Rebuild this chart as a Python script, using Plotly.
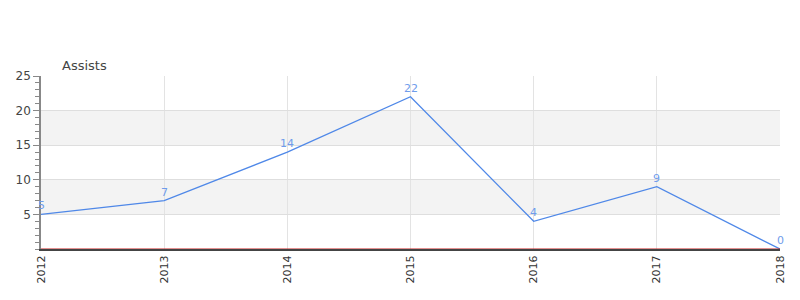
import plotly.graph_objects as go

years = ["2012", "2013", "2014", "2015", "2016", "2017", "2018"]
assists = [5, 7, 14, 22, 4, 9, 0]
y_ticks = [5, 10, 15, 20, 25]
bands = [(5, 10), (15, 20)]

xs = list(range(len(years)))
fig = go.Figure()
fig.add_trace(go.Scatter(
    x=xs, y=assists, mode="lines",
    line=dict(color="#4f88e8", width=1.3), cliponaxis=False,
    hoverinfo="skip"))

annotations = [dict(text="Assists", xref="paper", yref="paper", x=0.026, y=1.0,
                    xanchor="left", yanchor="bottom", showarrow=False, yshift=1,
                    font=dict(size=13, color="#444"))]
for xv, yv in zip(xs, assists):
    annotations.append(dict(x=xv, y=yv, xref="x", yref="y", text=str(yv), showarrow=False,
                            yanchor="bottom", yshift=0,
                            font=dict(color="#6f9ceb", size=11, family="DejaVu Sans")))

shapes = []
for lo, hi in bands:
    shapes.append(dict(type="rect", xref="paper", yref="y", x0=0, x1=1, y0=lo, y1=hi,
                       fillcolor="#f3f3f3", line=dict(width=0), layer="below"))
shapes.append(dict(type="line", xref="paper", yref="y", x0=0, x1=1, y0=0, y1=0,
                   line=dict(color="#c82020", width=1), layer="above"))

fig.update_layout(
    width=800, height=300, margin=dict(l=41, r=20, t=76, b=51),
    plot_bgcolor="white", paper_bgcolor="white", showlegend=False,
    font=dict(family="DejaVu Sans", color="#444"),
    annotations=annotations, shapes=shapes,
)
fig.update_xaxes(
    range=[0, len(years) - 1], tickvals=xs, ticktext=years,
    tickangle=-90, tickfont=dict(size=11, color="#333"),
    showgrid=True, gridcolor="#e3e3e3", zeroline=False,
    showline=True, linecolor="#444", linewidth=2, ticks="", mirror=False)
fig.update_yaxes(
    range=[0, 25], tickvals=y_ticks, tickfont=dict(size=12, color="#444"),
    showgrid=True, gridcolor="#dedede", zeroline=False,
    showline=True, linecolor="#888", linewidth=1.5,
    ticks="outside", ticklen=6, tickcolor="#888",
    minor=dict(dtick=1, ticks="outside", ticklen=4, tickcolor="#888", showgrid=False))

fig.write_html("out.html")
